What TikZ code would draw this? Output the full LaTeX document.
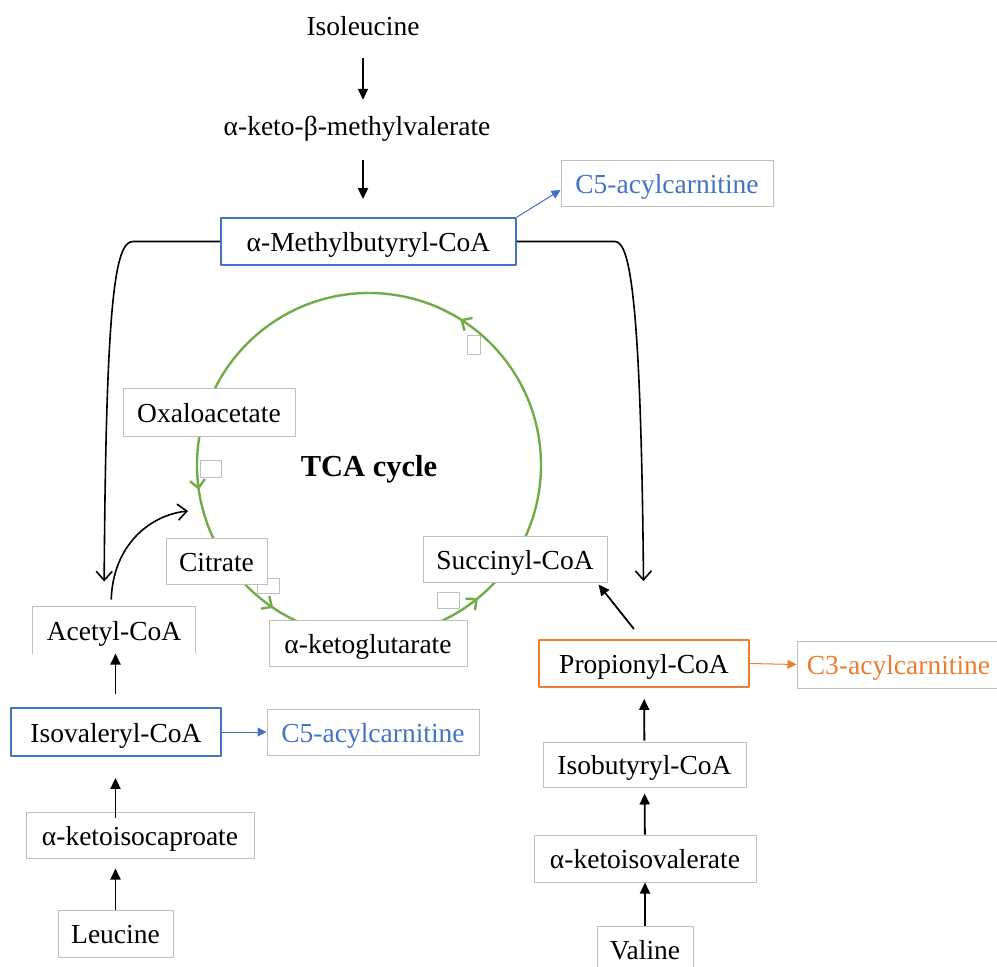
\documentclass[tikz,border=0pt]{standalone}
\usepackage{fontspec}
\setmainfont{Liberation Serif}
\usetikzlibrary{arrows.meta}
\usetikzlibrary{decorations.markings}
\definecolor{boxgray}{HTML}{BFBFBF}
\definecolor{accblue}{HTML}{4472C4}
\definecolor{accorange}{HTML}{ED7D31}
\definecolor{cycgreen}{HTML}{70AD47}
\tikzset{
  grybox/.style={draw=boxgray,line width=1bp,fill=white,inner sep=0pt,text height=22.5bp,text depth=2.5bp,minimum height=46bp},
  bluebox/.style={grybox,draw=accblue,line width=1.8bp},
  orgbox/.style={grybox,draw=accorange,line width=1.8bp},
  plain/.style={draw=none,inner sep=0pt,text height=22.5bp,text depth=2.5bp},
  stub/.style={draw=boxgray,line width=0.8bp,fill=white},
  arr/.style={black,line width=1.8bp,-{Triangle[length=11bp,width=10bp]}},
  carr/.style={black,line width=1.6bp,-{Straight Barb[length=9bp,width=16bp]}},
  thinarr/.style={line width=1bp,-{Triangle[length=9bp,width=9bp]}},
  cyc/.style={cycgreen,line width=2.4bp,
    postaction={decorate},
    decoration={markings,
      mark=at position 0.161 with {\arrow{Straight Barb[length=8bp,width=15bp]}},
      mark=at position 0.523 with {\arrow{Straight Barb[length=8bp,width=15bp]}},
      mark=at position 0.656 with {\arrow{Straight Barb[length=8bp,width=15bp]}},
      mark=at position 0.859 with {\arrow{Straight Barb[length=8bp,width=15bp]}}}},
}
\begin{document}
\begin{tikzpicture}[line join=bevel,font=\fontsize{27.5bp}{33bp}\selectfont]
\path [use as bounding box,fill=white] (0bp,0bp) rectangle (997bp,-967bp);
%% empty stubs round the cycle
\draw [stub] (467bp,-335bp) rectangle (480bp,-354bp);
\draw [stub] (200bp,-460bp) rectangle (221bp,-477bp);
\draw [stub] (257bp,-578bp) rectangle (279bp,-593bp);
\draw [stub] (437bp,-592bp) rectangle (459bp,-608bp);
%% TCA cycle
\coordinate (cyc_c) at (369bp,-465bp);
\draw [cyc] (cyc_c) circle [radius=172bp];
\coordinate (cyc_in) at (188bp,-511bp);
%
\node (node_ile) at (363bp,-25bp) [plain] {Isoleucine};
  \node (node_kmv) at (357bp,-125bp) [plain] {α-keto-β-methylvalerate};
  \node (node_mb) at (368.5bp,-241.5bp) [bluebox,minimum width=295bp,minimum height=47bp] {α-Methylbutyryl-CoA};
  \node (node_c5a) at (667bp,-183bp) [grybox,minimum width=212bp,text=accblue] {C5-acylcarnitine};
  \node (node_oaa) at (209bp,-412bp) [grybox,minimum width=172bp,minimum height=48bp] {Oxaloacetate};
  \node (node_tca) at (369bp,-466bp) [plain,font=\fontsize{30.5bp}{36bp}\selectfont\bfseries] {TCA cycle};
  \node (node_cit) at (216.5bp,-561bp) [grybox,minimum width=101bp] {Citrate};
  \node (node_akg) at (368bp,-643bp) [grybox,minimum width=198bp] {α-ketoglutarate};
  \node (node_suc) at (515bp,-559bp) [grybox,minimum width=184bp] {Succinyl-CoA};
  \node (node_acc) at (114bp,-630bp) [grybox,draw=none,minimum width=162bp] {Acetyl-CoA};
  \node (node_iva) at (116bp,-732bp) [bluebox,minimum width=210bp,minimum height=48bp] {Isovaleryl-CoA};
  \node (node_c5b) at (373bp,-732bp) [grybox,minimum width=212bp,text=accblue] {C5-acylcarnitine};
  \node (node_kic) at (140bp,-835bp) [grybox,minimum width=228bp] {α-ketoisocaproate};
  \node (node_leu) at (115.5bp,-933.5bp) [grybox,minimum width=115bp,minimum height=47bp] {Leucine};
  \node (node_prop) at (644bp,-663.5bp) [orgbox,minimum width=210bp,minimum height=47bp] {Propionyl-CoA};
  \node (node_c3) at (898.5bp,-664.5bp) [grybox,minimum width=203bp,minimum height=47bp,text=accorange] {C3-acylcarnitine};
  \node (node_ibu) at (644.5bp,-764.5bp) [grybox,minimum width=203bp,minimum height=45bp] {Isobutyryl-CoA};
  \node (node_kiv) at (645bp,-858.5bp) [grybox,minimum width=222bp,minimum height=47bp] {α-ketoisovalerate};
  \node (node_val) at (645bp,-949bp) [grybox,minimum width=96bp] {Valine};
  % the acetyl-CoA frame is open at the bottom
  \draw [boxgray,line width=1bp] (node_acc.south west) |- (node_acc.north east) -- (node_acc.south east);
%% isoleucine branch
  \draw [arr,shorten <=20.5bp,shorten >=12.5bp] (node_ile.south) -- (node_ile.south |- node_kmv.north);
  \draw [arr,shorten <=22.5bp,shorten >=18bp] (node_ile.south |- node_kmv.south) -- (node_ile.south |- node_mb.north);
  \draw [thinarr,accblue] (node_mb.north east) -- ([yshift=-7bp]node_c5a.west);
  \draw [carr,shorten >=25bp] (node_mb.west) -- (133bp,-241.5bp) .. controls (115bp,-241.5bp) and (106bp,-300bp) .. ([xshift=-10bp]node_acc.north);
  \draw [carr,shorten >=58bp] (node_mb.east) -- (615bp,-241.5bp) .. controls (630bp,-241.5bp) and (641bp,-300bp) .. (node_prop.north);
%% leucine branch
  \draw [arr,shorten >=10bp] (node_leu.north) -- (node_leu.north |- node_kic.south);
  \draw [arr,shorten <=-6bp,shorten >=21bp] (node_leu.north |- node_kic.north) -- (node_leu.north |- node_iva.south);
  \draw [arr,shorten <=13bp] (node_leu.north |- node_iva.north) -- (node_leu.north |- node_acc.south);
  \draw [thinarr,accblue] (node_iva.east) -- (node_c5b.west);
  \draw [carr,shorten <=7bp] ([xshift=-3bp]node_acc.north) .. controls (113bp,-545bp) and (150bp,-515bp) .. (cyc_in);
%% valine branch
  \draw [arr] (node_val) -- (node_kiv);
  \draw [arr,shorten >=6bp] (node_kiv) -- (node_ibu);
  \draw [arr,shorten <=1bp,shorten >=11bp] (node_ibu) -- (node_prop);
  \draw [thinarr,accorange] (node_prop.east) -- (node_c3.west);
  \draw [arr,shorten <=13bp] ([xshift=-2bp]node_prop.north) -- ([xshift=-9bp,yshift=-2bp]node_suc.south east);
%
\end{tikzpicture}
\end{document}
